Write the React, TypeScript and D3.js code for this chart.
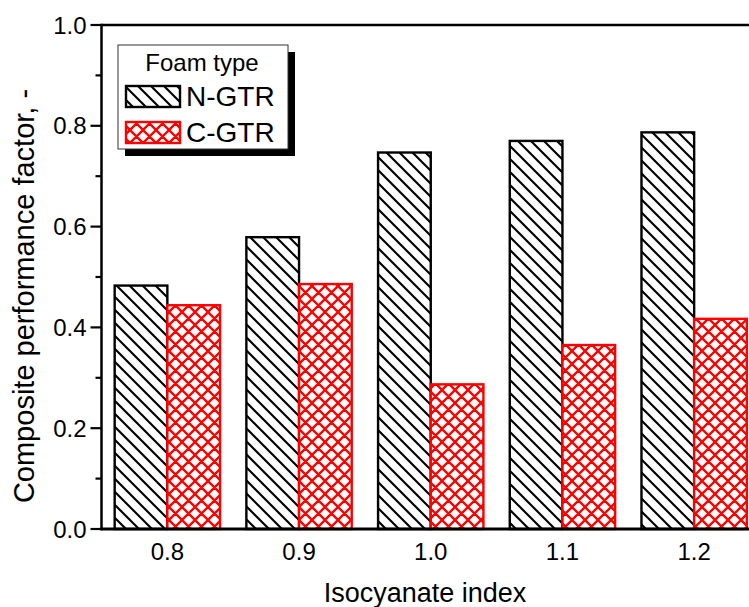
import React from "react";
import * as d3 from "d3";

const categories = ["0.8", "0.9", "1.0", "1.1", "1.2"];
const indexValues = [0.8, 0.9, 1.0, 1.1, 1.2];
const nGTR = [0.483, 0.579, 0.747, 0.77, 0.787];
const cGTR = [0.444, 0.486, 0.287, 0.365, 0.417];
const yMajorTicks = [0, 0.2, 0.4, 0.6, 0.8, 1.0];
const yMinorTicks = [0.1, 0.3, 0.5, 0.7, 0.9];
const seriesNames = ["N-GTR", "C-GTR"];
const legendTitle = "Foam type";
const xTitle = "Isocyanate index";
const yTitle = "Composite performance factor, -";

const W = 749;
const H = 607;
const FONT = "'Liberation Sans', Arial, sans-serif";

export default function App() {
  const x = d3.scaleLinear().domain([0.75, 1.25]).range([101.5, 760]);
  const y = d3.scaleLinear().domain([0, 1]).range([529, 25]);
  const halfGap = 0.04;
  const x0 = x(0.75);
  const y0 = y(0);
  const yTop = y(1);

  return (
    <svg
      width={W}
      height={H}
      style={{ position: "absolute", left: 0, top: 0, background: "#fff" }}
      fontFamily={FONT}
    >
      <defs>
        <pattern id="hatchN" patternUnits="userSpaceOnUse" width={13} height={13}>
          <rect width={13} height={13} fill="#fff" />
          <path d="M-2,-2 L15,15 M-2,11 L2,15 M11,-2 L15,2" stroke="#000" strokeWidth={2.1} />
        </pattern>
        <pattern id="hatchC" patternUnits="userSpaceOnUse" width={13} height={13}>
          <rect width={13} height={13} fill="#fff" />
          <path
            d="M-2,-2 L15,15 M-2,11 L2,15 M11,-2 L15,2 M-2,15 L15,-2 M-2,2 L2,-2 M11,15 L15,11"
            stroke="#ff0000"
            strokeWidth={2.3}
          />
        </pattern>
      </defs>

      {/* bars */}
      {indexValues.map((v, i) => (
        <g key={categories[i]}>
          <rect
            x={x(v - halfGap)}
            y={y(nGTR[i])}
            width={x(v) - x(v - halfGap)}
            height={y0 - y(nGTR[i])}
            fill="url(#hatchN)"
            stroke="#000"
            strokeWidth={2.4}
          />
          <rect
            x={x(v)}
            y={y(cGTR[i])}
            width={x(v + halfGap) - x(v)}
            height={y0 - y(cGTR[i])}
            fill="url(#hatchC)"
            stroke="#ff0000"
            strokeWidth={2.4}
          />
        </g>
      ))}

      {/* axes frame */}
      <line x1={x0} x2={W + 10} y1={yTop} y2={yTop} stroke="#000" strokeWidth={2.5} />
      <line x1={x0 - 1} x2={W + 10} y1={y0} y2={y0} stroke="#000" strokeWidth={2.8} />
      <line x1={x0} x2={x0} y1={yTop - 1.2} y2={y0 + 1.2} stroke="#000" strokeWidth={2.5} />

      {/* y ticks */}
      {yMajorTicks.map((t) => (
        <g key={"M" + t}>
          <line x1={x0 - 11} x2={x0} y1={y(t)} y2={y(t)} stroke="#000" strokeWidth={2.2} />
          <text x={x0 - 15} y={y(t)} dy="0.36em" textAnchor="end" fontSize={24} fill="#000">
            {d3.format(".1f")(t)}
          </text>
        </g>
      ))}
      {yMinorTicks.map((t) => (
        <line key={"m" + t} x1={x0 - 6} x2={x0} y1={y(t)} y2={y(t)} stroke="#000" strokeWidth={2.2} />
      ))}

      {/* x tick labels */}
      {indexValues.map((v, i) => (
        <text key={"xl" + i} x={x(v)} y={560} textAnchor="middle" fontSize={24} fill="#000">
          {categories[i]}
        </text>
      ))}

      {/* axis titles */}
      <text x={425} y={602} textAnchor="middle" fontSize={27} fill="#000">
        {xTitle}
      </text>
      <text
        transform={`translate(34,296) rotate(-90)`}
        textAnchor="middle"
        fontSize={29}
        fill="#000"
      >
        {yTitle}
      </text>

      {/* legend */}
      <g>
        <rect x={125} y={52} width={170} height={104} fill="#000" />
        <rect x={118} y={45} width={170} height={104} fill="#fff" stroke="#333" strokeWidth={1} />
        <text x={202} y={71} textAnchor="middle" fontSize={24} fill="#000">
          {legendTitle}
        </text>
        <rect x={126} y={86} width={54} height={21} fill="url(#hatchN)" stroke="#000" strokeWidth={2.4} />
        <text x={186} y={106} fontSize={28} fill="#000">
          {seriesNames[0]}
        </text>
        <rect x={126} y={122} width={54} height={21} fill="url(#hatchC)" stroke="#ff0000" strokeWidth={2.4} />
        <text x={186} y={142} fontSize={28} fill="#000">
          {seriesNames[1]}
        </text>
      </g>
    </svg>
  );
}
